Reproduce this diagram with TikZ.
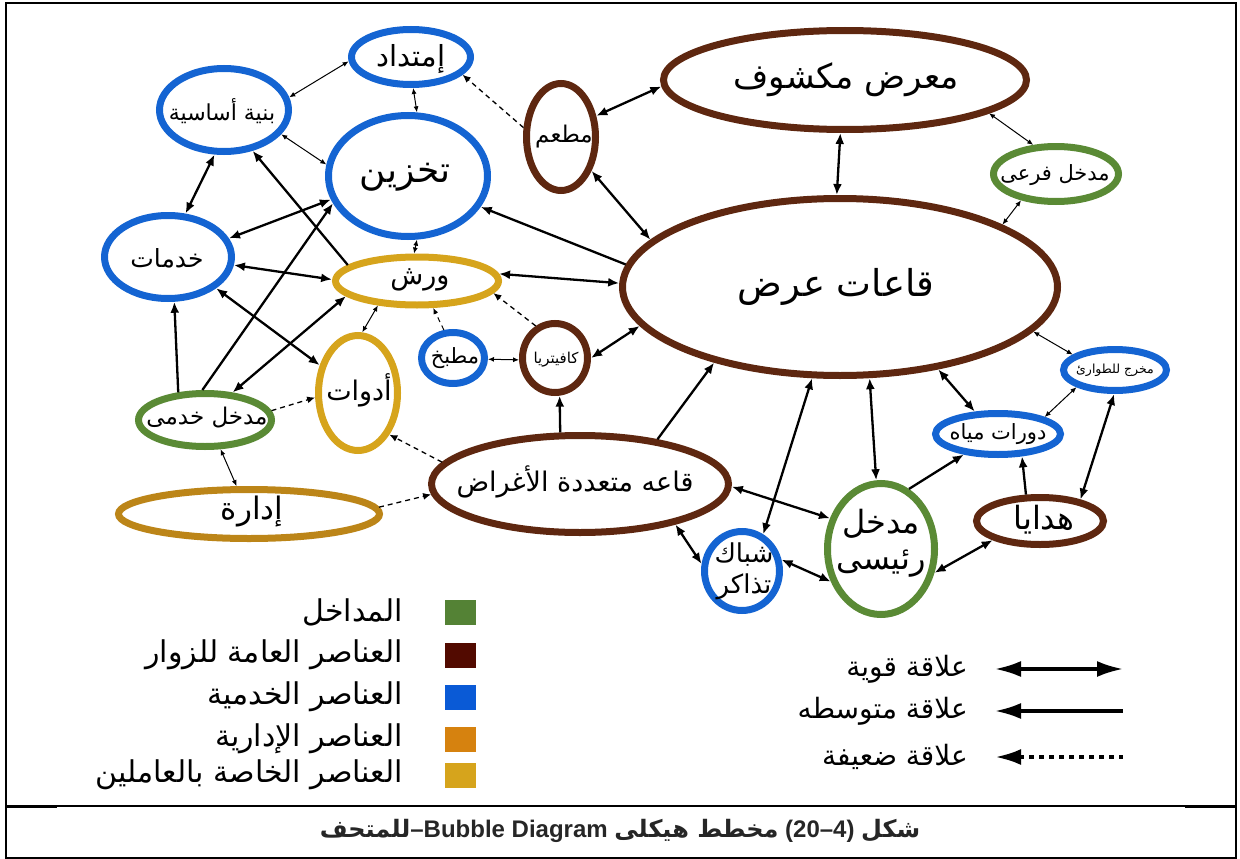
\documentclass[tikz,border=0pt]{standalone}
\usepackage{fontspec}
\setmainfont{Liberation Sans}
\newfontfamily\arabfont[Script=Arabic]{DejaVu Sans}
\TeXXeTstate=1
\usetikzlibrary{shapes.geometric,arrows.meta}
\newcommand\rl[1]{\beginR#1\endR}

% bubble outline colours
\definecolor{cB}{HTML}{1464D2}
\definecolor{cR}{HTML}{5E2710}
\definecolor{cG}{HTML}{5A8A35}
\definecolor{cY}{HTML}{D6A41C}
\definecolor{cO}{HTML}{BC8518}
% key swatches
\definecolor{kG}{HTML}{548235}
\definecolor{kR}{HTML}{520A00}
\definecolor{kB}{HTML}{0A5AD6}
\definecolor{kO}{HTML}{D6820F}
\definecolor{kY}{HTML}{D6A41C}

\begin{document}
\begin{tikzpicture}[x=1pt,y=-1pt,
  bub/.style={ellipse, draw, line width=7pt, inner sep=0pt},
  bB/.style={bub, draw=cB},
  bR/.style={bub, draw=cR},
  bG/.style={bub, draw=cG},
  bY/.style={bub, draw=cY},
  bO/.style={bub, draw=cO},
  lbl/.style={inner sep=0pt, font=\arabfont\fontsize{#1}{#1}\selectfont},
  strong/.style={line width=2.3pt, {Latex[length=11pt,width=9pt]}-{Latex[length=11pt,width=9pt]}},
  medium/.style={line width=2.3pt, -{Latex[length=11pt,width=9pt]}},
  light/.style={line width=1pt, {Latex[length=6pt,width=5pt]}-{Latex[length=6pt,width=5pt]}},
  weak/.style={line width=1.3pt, dash pattern=on 5pt off 4pt, -{Latex[length=8pt,width=7pt]}},
  swatch/.style={inner sep=0pt, minimum width=31pt, minimum height=25pt},
  keytext/.style={inner sep=0pt, anchor=east, font=\arabfont\fontsize{30}{30}\selectfont},
  reltext/.style={inner sep=0pt, anchor=east, font=\arabfont\fontsize{28}{28}\selectfont}
]
\useasboundingbox (0,0) rectangle (1240,859);

% frame and caption row
\draw[line width=2pt] (6,3) rectangle (1236,858);
\draw[line width=1.5pt] (6,806) -- (1236,806);
\draw[line width=3pt] (6,806) -- (57,806);
\draw[line width=3pt] (1185,806) -- (1236,806);

% bubbles
\node[bB, minimum width=119, minimum height=55] (imt) at (411,57) {};
\node[bB, minimum width=129, minimum height=83] (bin) at (224,110) {};
\node[bB, minimum width=159, minimum height=121] (tak) at (408,176) {};
\node[bB, minimum width=127, minimum height=83] (khd) at (168,257) {};
\node[bY, minimum width=163, minimum height=48] (wrs) at (417,281) {};
\node[bR, minimum width=69, minimum height=107] (mtm) at (561,137) {};
\node[bB, minimum width=63, minimum height=51] (mtb) at (453,358) {};
\node[bR, minimum width=65, minimum height=69] (caf) at (555,358) {};
\node[bY, minimum width=79, minimum height=115] (adw) at (358,393) {};
\node[bG, minimum width=133, minimum height=53] (mkh) at (205,420) {};
\node[bO, minimum width=261, minimum height=49] (idr) at (249,514) {};
\node[bR, minimum width=297, minimum height=97] (qmt) at (580,484) {};
\node[bR, minimum width=363, minimum height=99] (mrd) at (845,80) {};
\node[bG, minimum width=125, minimum height=55] (fr) at (1056,174) {};
\node[bR, minimum width=435, minimum height=177] (qa) at (840,287) {};
\node[bB, minimum width=103, minimum height=41] (mkr) at (1115,370) {};
\node[bB, minimum width=125, minimum height=41] (drt) at (998,434) {};
\node[bR, minimum width=127, minimum height=47] (hdy) at (1040,521) {};
\node[bG, minimum width=107, minimum height=131] (mr) at (881,549) {};
\node[bB, minimum width=75, minimum height=79] (shb) at (742,571) {};

% bubble names
\node[lbl=29] (t-imt) at (411,59) {\rl{إمتداد}};
\node[lbl=22] (t-bin) at (222,111) {\rl{بنية أساسية}};
\node[lbl=36] (t-tak) at (405,177) {\rl{تخزين}};
\node[lbl=25] (t-khd) at (167,258) {\rl{خدمات}};
\node[lbl=27] (t-wrs) at (420,280) {\rl{ورش}};
\node[lbl=23] (t-mtm) at (564,137) {\rl{مطعم}};
\node[lbl=21] (t-mtb) at (455,358) {\rl{مطبخ}};
\node[lbl=15] (t-caf) at (556,360) {\rl{كافيتريا}};
\node[lbl=27] (t-adw) at (359,390) {\rl{أدوات}};
\node[lbl=23] (t-mkh) at (207,418) {\rl{مدخل خدمى}};
\node[lbl=31] (t-idr) at (252,512) {\rl{إدارة}};
\node[lbl=27] (t-qmt) at (575,482) {\rl{قاعه متعددة الأغراض}};
\node[lbl=34] (t-mrd) at (846,80) {\rl{معرض مكشوف}};
\node[lbl=21] (t-fr) at (1055,175) {\rl{مدخل فرعى}};
\node[lbl=37] (t-qa) at (836,287) {\rl{قاعات عرض}};
\node[lbl=12.5] (t-mkr) at (1115,370) {\rl{مخرج للطوارئ}};
\node[lbl=21] (t-drt) at (998,434) {\rl{دورات مياه}};
\node[lbl=32] (t-hdy) at (1044,520) {\rl{هدايا}};
\node[inner sep=0pt, align=center, font=\arabfont\fontsize{32}{36}\selectfont] (t-mr) at (881,543) {\rl{مدخل}\\\rl{رئيسى}};
\node[inner sep=0pt, align=center, font=\arabfont\fontsize{26}{31}\selectfont] (t-shb) at (744,571) {\rl{شباك}\\\rl{تذاكر}};

% strong relations
\draw[strong] (bin.258) -- (khd.68);
\draw[strong] (khd.17) -- (tak.197);
\draw[strong] (khd.-7) -- (wrs.179);
\draw[strong] (khd.-33) -- (adw.144);
\draw[strong] (mkh.45) -- (wrs.192);
\draw[strong] (wrs.5) -- (qa.179);
\draw[strong] (mtm.31) -- (mrd.182);
\draw[strong] (mtm.-48) -- (qa.166);
\draw[strong] (mrd.-95) -- (qa.92);
\draw[strong] (caf.0) -- (qa.191);
\draw[strong] (qa.-107) -- (shb.60);
\draw[strong] (qa.-72) -- (mr.94);
\draw[strong] (qa.-40) -- (drt.136);
\draw[strong] (mkr.-92) -- (hdy.28);
\draw[strong] (mr.-24) -- (hdy.202);
\draw[strong] (mr.213) -- (shb.16);
\draw[strong] (qmt.-1) -- (mr.149);
\draw[strong] (qmt.-23) -- (shb.170);

% medium relations
\draw[medium] (mkh.134) -- (khd.-82);
\draw[medium] (mkh.95) -- (tak.200);
\draw[medium] (wrs.167) -- (bin.-55);
\draw[medium] (qa.174) -- (tak.-23);
\draw[medium] (qmt.111) -- (caf.-83);
\draw[medium] (qmt.30) -- (qa.211);
\draw[medium] (mr.65) -- (drt.211);
\draw[medium] (hdy.118) -- (drt.-43);

% light two-way links
\draw[light] (imt.184) -- (bin.11);
\draw[light] (imt.-86) -- (tak.82);
\draw[light] (bin.-23) -- (tak.172);
\draw[light] (tak.-82) -- (wrs.96);
\draw[light] (wrs.212) -- (adw.86);
\draw[light] (mtb.-2) -- (caf.183);
\draw[light] (mrd.-13) -- (fr.128);
\draw[light] (fr.217) -- (qa.21);
\draw[light] (qa.-13) -- (mkr.160);
\draw[light] (mkr.204) -- (drt.20);
\draw[light] (mkh.-62) -- (idr.114);

% weak relations
\draw[weak] (mtm.166) -- (imt.-19);
\draw[weak] (caf.121) -- (wrs.-9);
\draw[weak, line width=1pt, -{Latex[length=6pt,width=5pt]}] (mtb.108) -- (wrs.-59);
\draw[weak] (mkh.8) -- (adw.186);
\draw[weak] (qmt.171) -- (adw.-53);
\draw[weak] (idr.3) -- (qmt.184);

% colour key
\node[swatch, fill=kG] (k1) at (460,612) {};
\node[swatch, fill=kR] (k2) at (460,655) {};
\node[swatch, fill=kB] (k3) at (460,697) {};
\node[swatch, fill=kO] (k4) at (460,739) {};
\node[swatch, fill=kY] (k5) at (460,775) {};
\node[keytext] (kt1) at (403,612) {\rl{المداخل}};
\node[keytext] (kt2) at (403,655) {\rl{العناصر العامة للزوار}};
\node[keytext] (kt3) at (403,697) {\rl{العناصر الخدمية}};
\node[keytext] (kt4) at (403,739) {\rl{العناصر الإدارية}};
\node[keytext] (kt5) at (403,775) {\rl{العناصر الخاصة بالعاملين}};

% relation key
\coordinate (ra1) at (995,669); \coordinate (rb1) at (1123,669);
\coordinate (ra2) at (995,711); \coordinate (rb2) at (1123,711);
\coordinate (ra3) at (995,757); \coordinate (rb3) at (1123,757);
\draw[line width=3.2pt, {Latex[length=26pt,width=16pt]}-{Latex[length=26pt,width=16pt]}] (ra1) -- (rb1);
\draw[line width=3.2pt, {Latex[length=26pt,width=16pt]}-] (ra2) -- (rb2);
\draw[line width=4pt, dash pattern=on 5pt off 5pt, {Latex[length=26pt,width=16pt]}-] (ra3) -- (rb3);
\node[reltext] (rt1) at (968,669) {\rl{علاقة قوية}};
\node[reltext] (rt2) at (968,711) {\rl{علاقة متوسطه}};
\node[reltext] (rt3) at (968,757) {\rl{علاقة ضعيفة}};

% caption
\node[inner sep=0pt, text=black!85] (cap) at (620,831) {\fontsize{24}{27}\selectfont\bfseries{\arabfont\rl{للمتحف}}–Bubble Diagram {\arabfont\rl{مخطط هيكلى}} (20–4) {\arabfont\rl{شكل}}};
\end{tikzpicture}
\end{document}
